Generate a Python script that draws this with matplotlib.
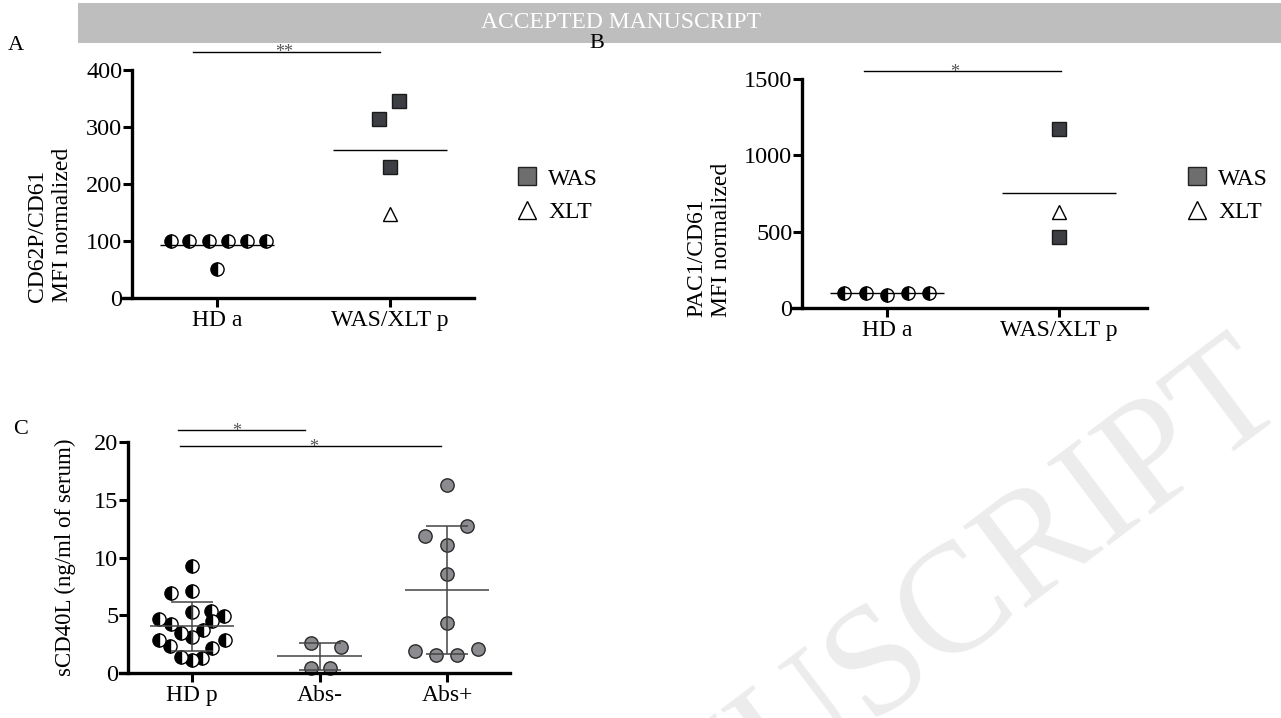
import numpy as np
import matplotlib
matplotlib.use('Agg')
import matplotlib.pyplot as plt
from matplotlib.lines import Line2D
from matplotlib.patches import Rectangle

plt.rcParams['font.family'] = ['Liberation Serif', 'DejaVu Serif']
plt.rcParams['axes.linewidth'] = 2.4

W, H = 1281, 718
fig = plt.figure(figsize=(W / 100, H / 100), dpi=100)

# ---------------- data ----------------
# panel A: CD62P/CD61
a_groups = ['HD a', 'WAS/XLT p']
a_hd = [100, 100, 100, 100, 100, 100, 50]
a_hd_dx = [-0.266, -0.162, -0.046, 0.064, 0.173, 0.283, 0.0]
a_was = [314, 346, 229]
a_was_dx = [-0.064, 0.052, 0.0]
a_xlt = [147]
a_sig = (-0.139, 0.942, 432, '**')

# panel B: PAC1/CD61
b_groups = ['HD a', 'WAS/XLT p']
b_hd = [100, 99, 88, 98, 100]
b_hd_dx = [-0.25, -0.122, 0.0, 0.122, 0.244]
b_was = [1172, 465]
b_was_dx = [0.0, 0.0]
b_xlt = [629]
b_sig = (-0.134, 1.012, 1552, '*')

# panel C: sCD40L
c_groups = ['HD p', 'Abs-', 'Abs+']
c_hd = [9.26, 6.93, 7.10, 5.28, 5.34, 4.91, 4.70, 4.27, 4.50, 3.46,
        3.12, 3.69, 2.89, 2.83, 2.31, 2.19, 1.39, 1.15, 1.33]
c_hd_dx = [0.0, -0.165, 0.0, 0.0, 0.15, 0.25, -0.26, -0.165, 0.155, -0.09,
           0.0, 0.085, -0.26, 0.26, -0.17, 0.155, -0.09, 0.0, 0.08]
c_neg = [2.63, 2.25, 0.43, 0.46]
c_neg_dx = [-0.07, 0.17, -0.07, 0.085]
c_pos = [16.25, 12.70, 11.86, 11.11, 8.60, 4.36, 1.90, 1.53, 1.53, 2.05]
c_pos_dx = [0.0, 0.16, -0.17, 0.0, 0.0, 0.0, -0.25, -0.085, 0.075, 0.24]
c_sigs = [(-0.11, 0.886, 21.04, '*', 0.353), (-0.094, 1.953, 19.65, '*', 0.95)]

half = dict(marker='o', ls='none', ms=9.5, fillstyle='left', markerfacecolor='black',
            markerfacecoloralt='white', markeredgecolor='black', mew=1.0, zorder=2, clip_on=False)
sq = dict(marker='s', ls='none', ms=10, markerfacecolor='#3c3e43', markeredgecolor='#1a1a1a',
          mew=1.0, zorder=2, clip_on=False)
tri = dict(marker='^', ls='none', ms=10.5, markerfacecolor='white', markeredgecolor='black',
           mew=1.0, zorder=2, clip_on=False)
grey = dict(marker='o', ls='none', ms=9.6, markerfacecolor='#8c8c90', markeredgecolor='#2a2a2a',
            mew=1.0, zorder=2, clip_on=False)


def px_axes(left, top, right, bottom):
    return fig.add_axes([left / W, 1 - bottom / H, (right - left) / W, (bottom - top) / H])


def style(ax, xlim, ylim, spine_x, yticks, groups):
    ax.set_xlim(xlim)
    ax.set_ylim(ylim)
    for s in ['top', 'right']:
        ax.spines[s].set_visible(False)
    ax.spines['left'].set_position(('data', spine_x))
    ax.set_facecolor('none')
    ax.set_yticks(yticks)
    ax.set_xticks(range(len(groups)))
    ax.set_xticklabels(groups)
    ax.tick_params(axis='both', direction='out', length=6.5, width=2.2)
    ax.tick_params(axis='y', labelsize=17.5, pad=0.5)
    ax.tick_params(axis='x', labelsize=17, pad=2)


def sig(ax, x0, x1, y, txt, xt):
    ax.plot([x0, x1], [y, y], color='black', lw=1.0, clip_on=False)
    ax.annotate(txt, xy=(xt, y), xytext=(0, -4), textcoords='offset points',
                ha='center', va='baseline', fontsize=13, color='#555555', annotation_clip=False)


# header band
fig.add_artist(Rectangle((78 / W, 1 - 43 / H), (W - 78) / W, 40 / H, transform=fig.transFigure,
                         facecolor='#bebebe', edgecolor='none', zorder=0))
fig.text(621 / W, 1 - 23 / H, 'ACCEPTED MANUSCRIPT', ha='center', va='center',
         color='white', fontsize=17)

# diagonal watermark
fig.text(1268 / W, 1 - 378 / H, 'ACCEPTED MANUSCRIPT', rotation=37, rotation_mode='anchor',
         ha='right', va='center', fontsize=112, color='#ececec', zorder=0)

# ---------------- panel A ----------------
axA = px_axes(123, 70, 474, 298)
style(axA, (-0.543, 1.486), (0, 400), -0.491, [0, 100, 200, 300, 400], a_groups)
axA.plot(np.array(a_hd_dx), a_hd, **half)
axA.plot(1 + np.array(a_was_dx), a_was, **sq)
axA.plot([1] * len(a_xlt), a_xlt, **tri)
axA.hlines(np.mean(a_hd), -0.33, 0.33, color='black', lw=1.0, zorder=3)
axA.hlines(np.mean(a_was + a_xlt), 1 - 0.33, 1 + 0.33, color='black', lw=1.0, zorder=3)
sig(axA, a_sig[0], a_sig[1], a_sig[2], a_sig[3], 0.387)

# ---------------- panel B ----------------
axB = px_axes(793, 79, 1147, 308)
style(axB, (-0.547, 1.512), (0, 1500), -0.494, [0, 500, 1000, 1500], b_groups)
axB.plot(np.array(b_hd_dx), b_hd, **half)
axB.plot(1 + np.array(b_was_dx), b_was, **sq)
axB.plot([1] * len(b_xlt), b_xlt, **tri)
axB.hlines(np.mean(b_hd), -0.33, 0.33, color='black', lw=1.0, zorder=3)
axB.hlines(np.mean(b_was + b_xlt), 1 - 0.33, 1 + 0.33, color='black', lw=1.0, zorder=3)
sig(axB, b_sig[0], b_sig[1], b_sig[2], b_sig[3], 0.395)

# legends
handles = [Line2D([], [], marker='s', ls='none', ms=13, markerfacecolor='#6e6e6e',
                  markeredgecolor='#222222', mew=1.0),
           Line2D([], [], marker='^', ls='none', ms=13, markerfacecolor='white',
                  markeredgecolor='black', mew=1.0)]
for x0 in [515, 1185]:
    fig.legend(handles, ['WAS', 'XLT'], loc='upper left', bbox_to_anchor=(x0 / W, 1 - 168 / H),
               frameon=False, fontsize=17, handlelength=1.0, handletextpad=0.4,
               labelspacing=0.5, borderpad=0, borderaxespad=0)

# ---------------- panel C ----------------
axC = px_axes(120, 442, 510, 673)
style(axC, (-0.565, 2.494), (0, 20), -0.502, [0, 5, 10, 15, 20], c_groups)
for i, (vals, dx) in enumerate([(c_hd, c_hd_dx), (c_neg, c_neg_dx), (c_pos, c_pos_dx)]):
    if i == 0:
        axC.plot(i + np.array(dx), vals, **half)
    else:
        axC.plot(i + np.array(dx), vals, **grey)
    m = np.mean(vals)
    sd = np.std(vals, ddof=1)
    axC.hlines(m, i - 0.33, i + 0.33, color='#444444', lw=1.1, zorder=3)
    axC.errorbar([i], [m], yerr=[sd], fmt='none', ecolor='#444444', elinewidth=1.1,
                 capsize=15, capthick=1.1, zorder=3)
for x0, x1, y, t, xt in c_sigs:
    sig(axC, x0, x1, y, t, xt)

# axis labels and panel letters
fig.text(50 / W, 1 - 302 / H, 'CD62P/CD61\nMFI normalized', rotation=90, ha='center',
         va='bottom', ma='left', fontsize=17, linespacing=1.3)
fig.text(709 / W, 1 - 317 / H, 'PAC1/CD61\nMFI normalized', rotation=90, ha='center',
         va='bottom', ma='left', fontsize=17, linespacing=1.25)
fig.text(65 / W, 1 - 557.5 / H, 'sCD40L (ng/ml of serum)', rotation=90, ha='center',
         va='center', fontsize=16.5)
fig.text(16 / W, 1 - 46 / H, 'A', ha='center', va='center', fontsize=16)
fig.text(597 / W, 1 - 44 / H, 'B', ha='center', va='center', fontsize=16)
fig.text(21 / W, 1 - 430 / H, 'C', ha='center', va='center', fontsize=16)

fig.savefig('out.png', dpi=100)
